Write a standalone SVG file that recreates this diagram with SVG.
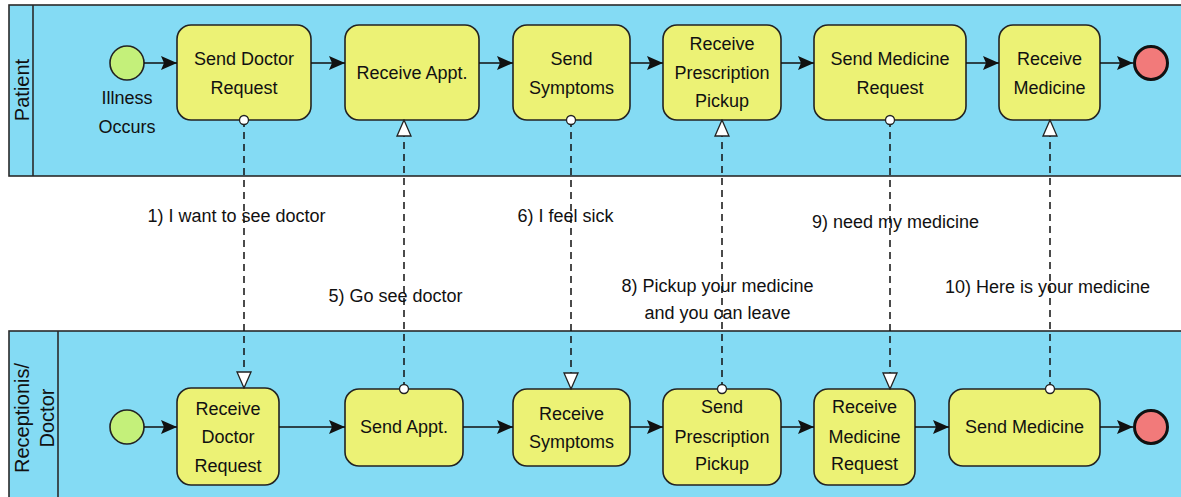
<svg xmlns="http://www.w3.org/2000/svg" width="1181" height="497" viewBox="0 0 1181 497">
<style>
text{font-family:"Liberation Sans",Arial,sans-serif;fill:#111;}
.pool{fill:#84DBF4;stroke:#2a2a2a;stroke-width:1.6;}
.hdr{stroke:#2a2a2a;stroke-width:1.6;}
.lane{font-size:20px;text-anchor:middle;}
.task{fill:#ECF275;stroke:#222;stroke-width:1.6;}
.tt{font-size:18px;text-anchor:middle;}
.start{fill:#C4F07A;stroke:#222;stroke-width:1.6;}
.end{fill:#F27A7A;stroke:#111;stroke-width:3;}
.seq{fill:none;stroke:#111;stroke-width:1.5;marker-end:url(#seqArrow);}
.msg{fill:none;stroke:#111;stroke-width:1.5;stroke-dasharray:7 5;marker-start:url(#msgStart);marker-end:url(#msgEnd);}
.ml{font-size:18px;text-anchor:middle;}
</style>
<defs>
<marker id="seqArrow" viewBox="0 0 16 14" refX="16" refY="7" markerWidth="16" markerHeight="14" markerUnits="userSpaceOnUse" orient="auto">
<path d="M0,0 L16,7 L0,14 L3,7 z" fill="#111"/>
</marker>
<marker id="msgEnd" viewBox="0 0 18 16" refX="17" refY="8" markerWidth="18" markerHeight="16" markerUnits="userSpaceOnUse" orient="auto">
<path d="M1,1 L17,8 L1,15 z" fill="#fff" stroke="#222" stroke-width="1.3"/>
</marker>
<marker id="msgStart" viewBox="0 0 12 12" refX="6" refY="6" markerWidth="12" markerHeight="12" markerUnits="userSpaceOnUse" orient="auto">
<circle cx="6" cy="6" r="4.5" fill="#fff" stroke="#222" stroke-width="1.3"/>
</marker>
</defs>

<g id="pool-patient">
<rect class="pool" x="9" y="5" width="1190" height="171"/>
<line class="hdr" x1="33" y1="5" x2="33" y2="176"/>
<text class="lane" transform="translate(29,90) rotate(-90)">Patient</text>
</g>
<g id="pool-receptionist">
<rect class="pool" x="9" y="331" width="1190" height="190"/>
<line class="hdr" x1="58" y1="331" x2="58" y2="500"/>
<text class="lane" transform="translate(29,418) rotate(-90)">Receptionis/</text>
<text class="lane" transform="translate(54,418) rotate(-90)">Doctor</text>
</g>

<g id="start-patient">
<circle class="start" cx="127" cy="63" r="17"/>
<text class="tt" x="127" y="104">Illness</text>
<text class="tt" x="127" y="133">Occurs</text>
</g>
<g id="task-send-doctor-request">
<rect class="task" x="177" y="25" width="134" height="95" rx="14"/>
<text class="tt" x="244" y="65">Send Doctor</text>
<text class="tt" x="244" y="94">Request</text>
</g>
<g id="task-receive-appt">
<rect class="task" x="345" y="25" width="134" height="95" rx="14"/>
<text class="tt" x="412" y="79">Receive Appt.</text>
</g>
<g id="task-send-symptoms">
<rect class="task" x="513" y="25" width="117" height="95" rx="14"/>
<text class="tt" x="571.5" y="65">Send</text>
<text class="tt" x="571.5" y="94">Symptoms</text>
</g>
<g id="task-receive-prescription-pickup">
<rect class="task" x="663" y="25" width="118" height="95" rx="14"/>
<text class="tt" x="722" y="50">Receive</text>
<text class="tt" x="722" y="79">Prescription</text>
<text class="tt" x="722" y="107">Pickup</text>
</g>
<g id="task-send-medicine-request">
<rect class="task" x="814" y="25" width="152" height="95" rx="14"/>
<text class="tt" x="890" y="65">Send Medicine</text>
<text class="tt" x="890" y="94">Request</text>
</g>
<g id="task-receive-medicine">
<rect class="task" x="999" y="25" width="101" height="95" rx="14"/>
<text class="tt" x="1049.5" y="65">Receive</text>
<text class="tt" x="1049.5" y="94">Medicine</text>
</g>
<g id="end-patient">
<circle class="end" cx="1151" cy="63" r="16.5"/>
</g>

<g id="start-receptionist">
<circle class="start" cx="127" cy="427" r="17"/>
</g>
<g id="task-receive-doctor-request">
<rect class="task" x="177" y="388" width="102" height="97" rx="14"/>
<text class="tt" x="228" y="415">Receive</text>
<text class="tt" x="228" y="443">Doctor</text>
<text class="tt" x="228" y="472">Request</text>
</g>
<g id="task-send-appt">
<rect class="task" x="345" y="389" width="118" height="77" rx="14"/>
<text class="tt" x="404" y="433">Send Appt.</text>
</g>
<g id="task-receive-symptoms">
<rect class="task" x="513" y="389" width="117" height="77" rx="14"/>
<text class="tt" x="571.5" y="420">Receive</text>
<text class="tt" x="571.5" y="448">Symptoms</text>
</g>
<g id="task-send-prescription-pickup">
<rect class="task" x="663" y="389" width="118" height="96" rx="14"/>
<text class="tt" x="722" y="413">Send</text>
<text class="tt" x="722" y="443">Prescription</text>
<text class="tt" x="722" y="470">Pickup</text>
</g>
<g id="task-receive-medicine-request">
<rect class="task" x="814" y="389" width="101" height="96" rx="14"/>
<text class="tt" x="864.5" y="413">Receive</text>
<text class="tt" x="864.5" y="443">Medicine</text>
<text class="tt" x="864.5" y="470">Request</text>
</g>
<g id="task-send-medicine">
<rect class="task" x="949" y="389" width="151" height="77" rx="14"/>
<text class="tt" x="1024.5" y="433">Send Medicine</text>
</g>
<g id="end-receptionist">
<circle class="end" cx="1151" cy="427" r="16.5"/>
</g>

<g id="connectors">
<g id="message-labels">
<text class="ml" x="236.5" y="222">1) I want to see doctor</text>
<text class="ml" x="395.5" y="302">5) Go see doctor</text>
<text class="ml" x="565.5" y="222">6) I feel sick</text>
<text class="ml" x="717.5" y="292">8) Pickup your medicine</text>
<text class="ml" x="717.5" y="319">and you can leave</text>
<text class="ml" x="895.5" y="228">9) need my medicine</text>
<text class="ml" x="1047.5" y="293">10) Here is your medicine</text>
</g>
<path class="seq" d="M144,63 H177"/>
<path class="seq" d="M311,63 H345"/>
<path class="seq" d="M479,63 H513"/>
<path class="seq" d="M630,63 H663"/>
<path class="seq" d="M781,63 H814"/>
<path class="seq" d="M966,63 H999"/>
<path class="seq" d="M1100,63 H1133"/>
<path class="seq" d="M144,427 H177"/>
<path class="seq" d="M279,427 H345"/>
<path class="seq" d="M463,427 H513"/>
<path class="seq" d="M630,427 H663"/>
<path class="seq" d="M781,427 H814"/>
<path class="seq" d="M915,427 H949"/>
<path class="seq" d="M1100,427 H1133"/>
<path class="msg" d="M244,120 V388"/>
<path class="msg" d="M404,389 V120"/>
<path class="msg" d="M571,120 V389"/>
<path class="msg" d="M722,389 V120"/>
<path class="msg" d="M890,120 V389"/>
<path class="msg" d="M1050,389 V120"/>
</g>
</svg>
